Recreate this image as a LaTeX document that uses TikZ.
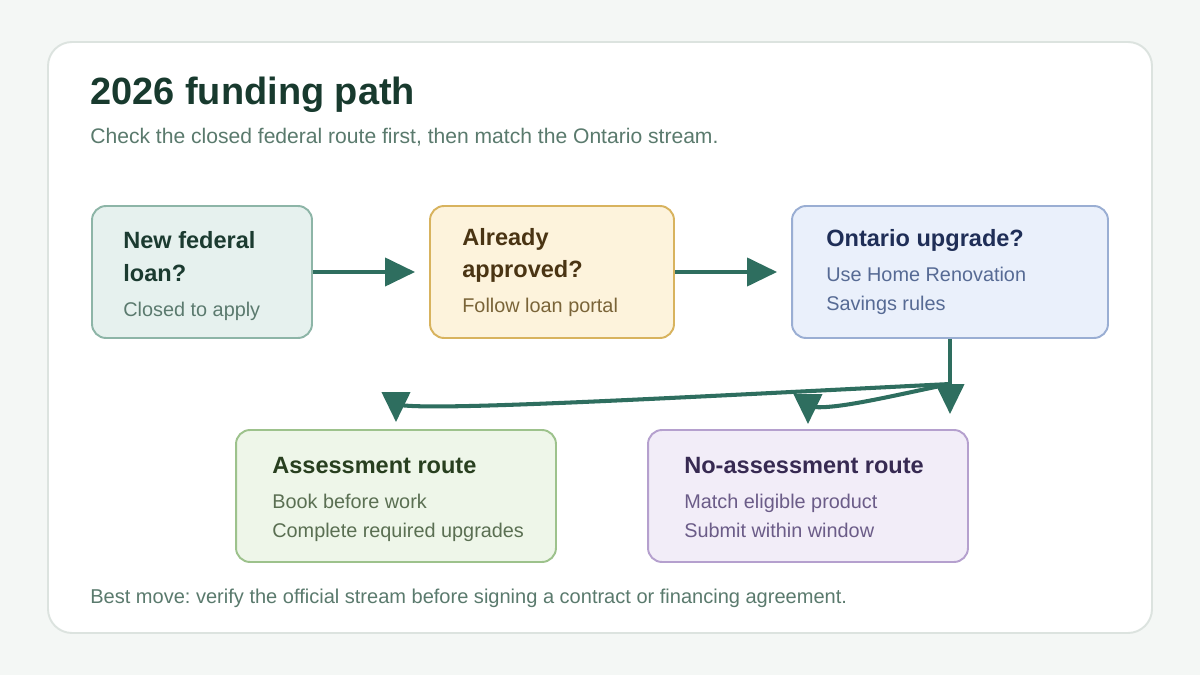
\documentclass[tikz,border=0pt]{standalone}
\usepackage{fontspec}
\setmainfont{Liberation Sans}
\frenchspacing
\usetikzlibrary{arrows.meta}
\definecolor{PAGE}{HTML}{F4F7F5}
\definecolor{EDGE}{HTML}{DCE3DF}
\definecolor{INK}{HTML}{183A2E}
\definecolor{MUTED}{HTML}{5A7A6D}
\definecolor{FLOW}{HTML}{2E6E5F}
\definecolor{FEDF}{HTML}{E6F1EE}\definecolor{FEDL}{HTML}{8DB5A7}
\definecolor{FEDT}{HTML}{1B3B30}\definecolor{FEDS}{HTML}{5B7A6E}
\definecolor{APPF}{HTML}{FDF3DC}\definecolor{APPL}{HTML}{D8B35E}
\definecolor{APPT}{HTML}{4A3413}\definecolor{APPS}{HTML}{7A6438}
\definecolor{ONTF}{HTML}{EAF0FB}\definecolor{ONTL}{HTML}{9AAED3}
\definecolor{ONTT}{HTML}{1F2E57}\definecolor{ONTS}{HTML}{566A94}
\definecolor{ASRF}{HTML}{EEF6E9}\definecolor{ASRL}{HTML}{9DC28C}
\definecolor{ASRT}{HTML}{283F1F}\definecolor{ASRS}{HTML}{5A6F52}
\definecolor{NASF}{HTML}{F2EDF8}\definecolor{NASL}{HTML}{B5A0CE}
\definecolor{NAST}{HTML}{372A52}\definecolor{NASS}{HTML}{6B5C88}

\begin{document}
\begin{tikzpicture}[x=0.02cm,y=-0.02cm]
\tikzset{box/.style 2 args={draw=#1,fill=#2,line width=1.1pt,rounded corners=0.28cm,inner sep=0pt,minimum height=2.64cm},
 hd/.style={anchor=base west,inner sep=0pt,font=\fontsize{13.4}{15}\selectfont\bfseries},
 sb/.style={anchor=base west,inner sep=0pt,font=\fontsize{11.3}{13}\selectfont},
 flow/.style={-{Triangle[length=0.6cm,width=0.56cm]},line width=2.3pt,FLOW,line join=round}}
\useasboundingbox[fill=PAGE] (0,0) rectangle (1200,675);
\draw[EDGE,fill=white,line width=1.1pt,rounded corners=0.48cm] (48,42) rectangle (1152,633);
\node[anchor=base west,inner sep=0pt,INK,font=\fontsize{21.6}{24}\selectfont\bfseries] (ttl) at (90,105) {2026 funding path};
\node[anchor=base west,inner sep=0pt,MUTED,font=\fontsize{12}{14}\selectfont] (sub) at (90,144) {Check the closed federal route first, then match the Ontario stream.};
% decision boxes
\node[box={FEDL}{FEDF},minimum width=4.4cm] (fed) at (202,272) {};
\node[box={APPL}{APPF},minimum width=4.88cm] (appr) at (552,272) {};
\node[box={ONTL}{ONTF},minimum width=6.32cm] (ont) at (950,272) {};
\node[box={ASRL}{ASRF},minimum width=6.4cm] (asr) at (396,496) {};
\node[box={NASL}{NASF},minimum width=6.4cm] (nas) at (808,496) {};
\node[hd,FEDT] (fedA) at (123,249) {New federal};
\node[hd,FEDT] (fedB) at (123,282) {loan?};
\node[sb,FEDS] (fedC) at (123,317) {Closed to apply};
\node[hd,APPT] (appA) at (462,246) {Already};
\node[hd,APPT] (appB) at (462,278) {approved?};
\node[sb,APPS] (appC) at (462,313) {Follow loan portal};
\node[hd,ONTT] (ontA) at (826,247) {Ontario upgrade?};
\node[sb,ONTS] (ontB) at (826,282) {Use Home Renovation};
\node[sb,ONTS] (ontC) at (826,311) {Savings rules};
\node[hd,ASRT] (asrA) at (272,473) {Assessment route};
\node[sb,ASRS] (asrB) at (272,508) {Book before work};
\node[sb,ASRS] (asrC) at (272,537) {Complete required upgrades};
\node[hd,NAST] (nasA) at (684,473) {No-assessment route};
\node[sb,NASS] (nasB) at (684,508) {Match eligible product};
\node[sb,NASS] (nasC) at (684,537) {Submit within window};
\node[anchor=base west,inner sep=0pt,MUTED,font=\fontsize{11.4}{13}\selectfont] (note) at (90,603) {Best move: verify the official stream before signing a contract or financing agreement.};
% connectors
\coordinate (fork) at (950,384);
\coordinate (bendA) at (396,404);
\coordinate (bendB) at (808,406);
\draw[flow,shorten >=0.28cm] (fed.east) -- (appr.west);
\draw[flow,shorten >=0.28cm] (appr.east) -- (ont.west);
\draw[flow,shorten >=0.3cm] (ont.south) -- (ont.south |- nas.north);
\draw[flow,shorten >=0.14cm] (fork) .. controls (650,399) and (416,412) .. (bendA) -- (asr.north);
\draw[flow,shorten >=0.1cm] (fork) .. controls (895,395) and (828,412) .. (bendB) -- (nas.north);
\end{tikzpicture}
\end{document}
